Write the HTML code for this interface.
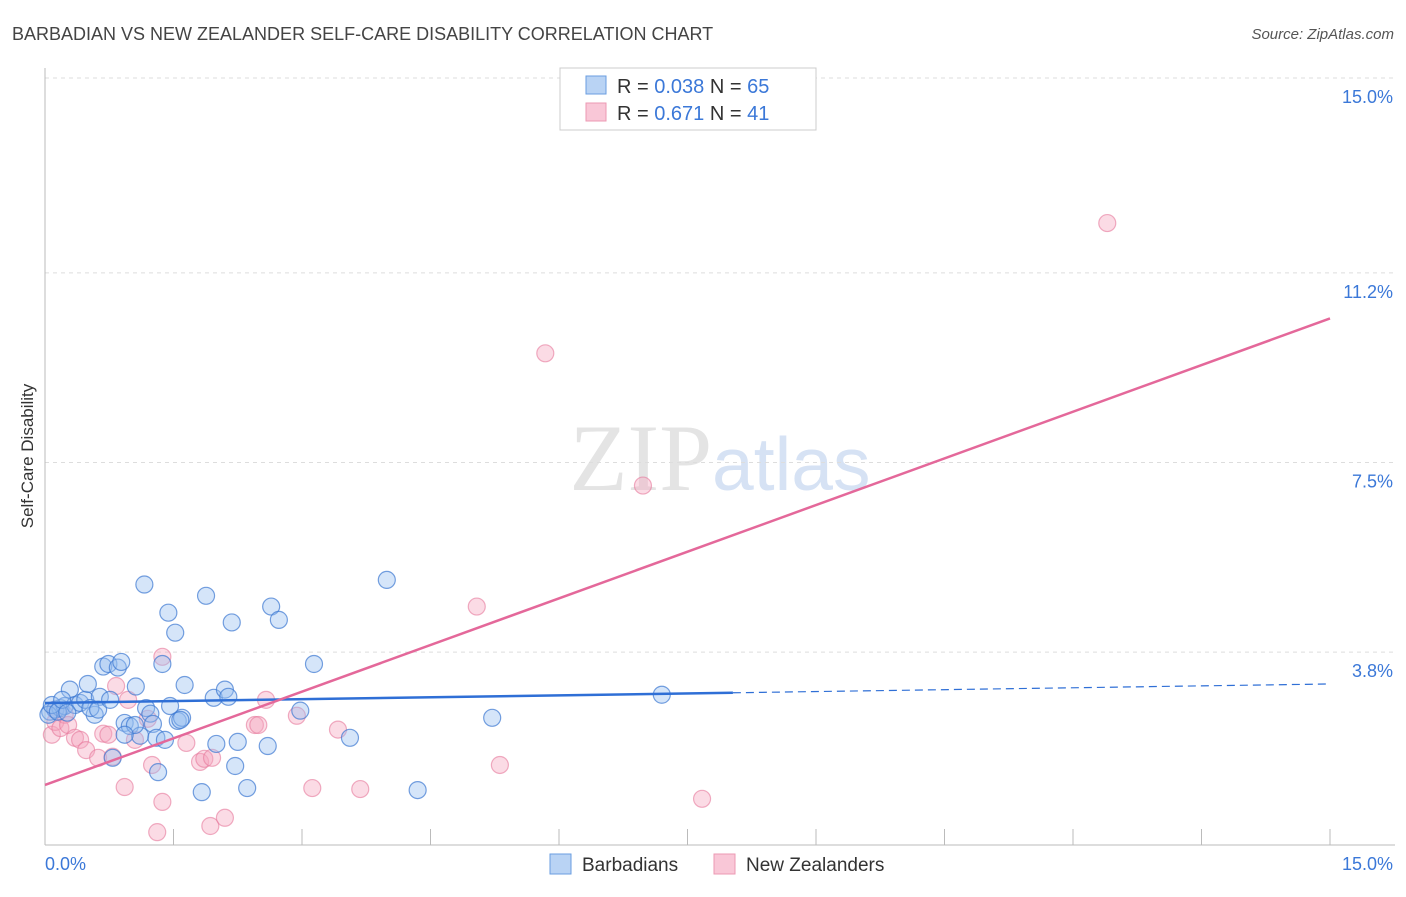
<!DOCTYPE html>
<html><head><meta charset="utf-8"><style>
body{margin:0;background:#fff;font-family:"Liberation Sans",sans-serif}
</style></head><body>
<svg id="chart" width="1406" height="892" xmlns="http://www.w3.org/2000/svg" font-family="Liberation Sans, sans-serif">
<text x="12" y="40" font-size="18" fill="#444">BARBADIAN VS NEW ZEALANDER SELF-CARE DISABILITY CORRELATION CHART</text>
<text x="1394" y="39" font-size="15" fill="#555" text-anchor="end" font-style="italic">Source: ZipAtlas.com</text>
<text x="720" y="490" font-size="95" fill="#e4e4e4" text-anchor="middle" font-family="Liberation Serif, serif">ZIP<tspan fill="#d6e2f4" font-family="Liberation Sans, sans-serif" font-size="75">atlas</tspan></text>
<text transform="translate(33,456) rotate(-90)" font-size="17" fill="#333" text-anchor="middle">Self-Care Disability</text>
<g id="grid"></g><g id="axes"></g><g id="pts"></g><g id="lines"></g>
<g>
<rect x="560" y="68" width="256" height="62" fill="#fff" stroke="#ccc"/>
<rect x="586" y="76" width="20" height="18" fill="#b9d3f4" stroke="#6a9ee0"/>
<text x="617" y="93" font-size="20" fill="#333">R = <tspan fill="#3b78d8">0.038</tspan>   N = <tspan fill="#3b78d8">65</tspan></text>
<rect x="586" y="103" width="20" height="18" fill="#f9c7d7" stroke="#ec9ab3"/>
<text x="617" y="120" font-size="20" fill="#333">R =  <tspan fill="#3b78d8">0.671</tspan>   N =  <tspan fill="#3b78d8">41</tspan></text>
</g>
<g>
<rect x="550" y="854" width="21" height="20" fill="#b9d3f4" stroke="#6a9ee0"/>
<text x="582" y="871" font-size="19" fill="#333">Barbadians</text>
<rect x="714" y="854" width="21" height="20" fill="#f9c7d7" stroke="#ec9ab3"/>
<text x="746" y="871" font-size="19" fill="#333">New Zealanders</text>
</g>
</svg>
<script>
const yTicks=[15.0,11.2,7.5,3.8];
const yTickLabels=["15.0%","11.2%","7.5%","3.8%"];
const xTickCount=10;
const blueX=[.06,.12,.18,.23,.29,.35,.41,.47,.50,.58,.64,.68,.74,.79,.85,.89,.93,.99,1.06,1.11,1.16,1.18,1.23,1.26,1.30,1.32,1.37,1.40,1.44,1.46,1.52,1.55,1.60,1.63,1.83,1.88,1.97,2.00,2.10,2.14,2.18,2.22,2.25,2.36,2.60,2.64,2.73,2.98,3.14,3.56,3.99,4.35,5.22,7.20,.04,.08,.15,.20,.26,.53,.62,.76,1.05,1.58,.93];
const blueY=[2.64,2.68,2.71,2.75,3.07,2.77,2.81,2.87,3.18,2.58,2.93,3.52,3.57,1.74,3.50,3.61,2.42,2.36,3.13,2.17,5.12,2.71,2.60,2.40,2.13,1.46,3.57,2.09,4.57,2.75,4.18,2.46,2.52,3.16,1.07,4.90,2.91,2.01,3.07,2.93,4.38,1.58,2.05,1.15,1.97,4.69,4.43,2.66,3.57,2.13,5.21,1.11,2.52,2.97,2.58,2.77,2.64,2.87,2.62,2.71,2.68,2.87,2.38,2.48,2.19];
const pinkX=[.08,.12,.18,.23,.27,.35,.41,.48,.62,.68,.74,.79,.83,.93,.97,1.05,1.20,1.25,1.31,1.37,1.37,1.65,1.81,1.86,1.93,1.95,2.10,2.45,2.49,2.58,2.94,3.12,3.42,3.68,5.04,5.31,5.84,6.98,7.67,12.40,.12];
const pinkY=[2.19,2.44,2.32,2.58,2.38,2.13,2.09,1.89,1.74,2.21,2.19,1.76,3.14,1.17,2.87,2.09,2.50,1.60,0.29,0.88,3.71,2.03,1.66,1.72,0.41,1.74,0.57,2.38,2.38,2.87,2.56,1.15,2.29,1.13,4.69,1.60,9.63,7.05,0.94,12.17,2.68];
const blueTrend=[2.81,3.18];const blueSolidEnd=8.03;
const pinkTrend=[1.21,10.31];
const NS="http://www.w3.org/2000/svg";
const X=v=>45+v*(1285/15), Y=v=>847-v*(769/15);
function mk(t,a,p){const e=document.createElementNS(NS,t);for(const k in a)e.setAttribute(k,a[k]);document.getElementById(p).appendChild(e);return e;}
yTicks.forEach((t,i)=>{
 const g=mk('line',{x1:45,x2:1395,y1:Y(t),y2:Y(t),stroke:'#ddd','stroke-dasharray':'4,4'},'grid');
 
 
 const l=mk('text',{x:1393,y:Y(t)+25,'font-size':18,fill:'#3b78d8','text-anchor':'end'},'grid');l.textContent=yTickLabels[i];
 
 
});
let a=mk('line',{x1:45,x2:45,y1:68,y2:845,stroke:'#bbb'},'axes');


a=mk('line',{x1:45,x2:1395,y1:845,y2:845,stroke:'#bbb'},'axes');


for(let i=1;i<=xTickCount;i++){const t=mk('line',{x1:X(i*1.5),x2:X(i*1.5),y1:829,y2:845,stroke:'#bbb'},'axes');
 
 }
let t1=mk('text',{x:45,y:870,'font-size':18,fill:'#3b78d8'},'axes');t1.textContent='0.0%';


let t2=mk('text',{x:1393,y:870,'font-size':18,fill:'#3b78d8','text-anchor':'end'},'axes');t2.textContent='15.0%';


pinkX.forEach((x,i)=>{const c=mk('circle',{cx:X(x),cy:Y(pinkY[i]),r:8.5,fill:'rgba(245,165,190,0.4)',stroke:'rgba(230,120,155,0.6)','stroke-width':1.2},'pts');
 
 });
blueX.forEach((x,i)=>{const c=mk('circle',{cx:X(x),cy:Y(blueY[i]),r:8.5,fill:'rgba(150,190,240,0.4)',stroke:'rgba(60,120,210,0.7)','stroke-width':1.2},'pts');
 
 });
const bAt=x=>blueTrend[0]+(blueTrend[1]-blueTrend[0])*x/15;
let l=mk('line',{x1:X(0),y1:Y(bAt(0)),x2:X(blueSolidEnd),y2:Y(bAt(blueSolidEnd)),stroke:'#2f6fd6','stroke-width':2.5},'lines');


l=mk('line',{x1:X(blueSolidEnd),y1:Y(bAt(blueSolidEnd)),x2:X(15),y2:Y(bAt(15)),stroke:'#2f6fd6','stroke-width':1.2,'stroke-dasharray':'8,5'},'lines');


l=mk('line',{x1:X(0),y1:Y(pinkTrend[0]),x2:X(15),y2:Y(pinkTrend[1]),stroke:'#e4689a','stroke-width':2.5},'lines');


</script>
</body></html>
